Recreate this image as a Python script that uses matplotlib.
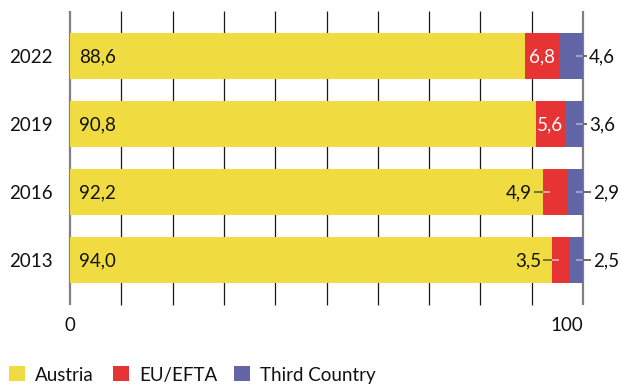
import numpy as np
import matplotlib.pyplot as plt
from matplotlib.patches import Rectangle

plt.rcParams['font.family'] = ['Lato', 'DejaVu Sans']

years = ['2013', '2016', '2019', '2022']
austria = [94.0, 92.2, 90.8, 88.6]
eu_efta = [3.5, 4.9, 5.6, 6.8]
third = [2.5, 2.9, 3.6, 4.6]
series_names = ['Austria', 'EU/EFTA', 'Third Country']

yellow = '#F0DC40'
red = '#E63434'
purple = '#6366A6'
fs = 13.5
PT = 0.72  # points per pixel at dpi 100

W, H = 621, 384
fig = plt.figure(figsize=(W / 100, H / 100), dpi=100)
ax = fig.add_axes([70 / W, 79 / H, 513 / W, 294 / H])
ax.set_xlim(0, 100)
ax.set_ylim(-0.662, 3.662)
ax.axis('off')

# grid lines
for gx in range(0, 101, 10):
    if gx in (0, 100):
        ax.vlines(gx, -0.662, 3.662, color='#808080', lw=1.6, zorder=1, clip_on=False)
    else:
        ax.vlines(gx, -0.662, 3.662, color='#1a1a1a', lw=0.9, zorder=0, clip_on=False)

ypos = np.arange(len(years))
a = np.array(austria)
e = np.array(eu_efta)
t = np.array(third)
ax.barh(ypos, a, height=0.676, color=yellow, zorder=2)
ax.barh(ypos, e, left=a, height=0.676, color=red, zorder=2)
ax.barh(ypos, t, left=a + e, height=0.676, color=purple, zorder=2)


def label(x, y, s, dx=0, ha='left', color='#111111'):
    ax.annotate(s, (x, y), xytext=(dx * PT, -6.7 * PT), textcoords='offset points',
                ha=ha, va='baseline', fontsize=fs, color=color,
                annotation_clip=False, zorder=5)


def fmt(v):
    return ('%.1f' % v).replace('.', ',')


for i, y in enumerate(ypos):
    label(0, y, years[i], dx=-17, ha='right')
    label(1.8, y, fmt(a[i]))
    # EU/EFTA
    if e[i] >= 5.5:
        label(a[i] + e[i] / 2, y, fmt(e[i]), ha='center', color='white')
    else:
        ax.plot([a[i] - 1.7, a[i]], [y, y], color='#555533', lw=1.1, zorder=4, solid_capstyle='butt')
        ax.plot([a[i], a[i] + 1.3], [y, y], color='#f4c0c0', lw=1.1, zorder=4, solid_capstyle='butt')
        label(a[i] - 2.2, y, fmt(e[i]), ha='right')
    # Third country
    ext = 1.6 if e[i] < 5.5 else 0.8
    ax.plot([100 - 1.4, 100], [y, y], color='#b4b4cc', lw=1.1, zorder=4, solid_capstyle='butt')
    ax.plot([100, 100 + ext], [y, y], color='#444444', lw=1.1, zorder=4,
            solid_capstyle='butt', clip_on=False)
    label(100 + ext + 0.4, y, fmt(t[i]))

# x tick labels
for xv, ha in [(0, 'center'), (100, 'right')]:
    ax.annotate(str(xv), (xv, 0), xycoords=('data', 'axes fraction'),
                xytext=(0, -26 * PT), textcoords='offset points',
                ha=ha, va='baseline', fontsize=fs, color='#111111', annotation_clip=False)

# legend
for x0, col, name in [(9, yellow, series_names[0]), (113, red, series_names[1]),
                      (234, purple, series_names[2])]:
    fig.add_artist(Rectangle((x0 / W, 3.3 / H), 16 / W, 15 / H, transform=fig.transFigure,
                             color=col, lw=0))
    fig.text((x0 + 26) / W, 3 / H, name, fontsize=fs, color='#111111', va='baseline')

fig.savefig('out.png', dpi=100)
